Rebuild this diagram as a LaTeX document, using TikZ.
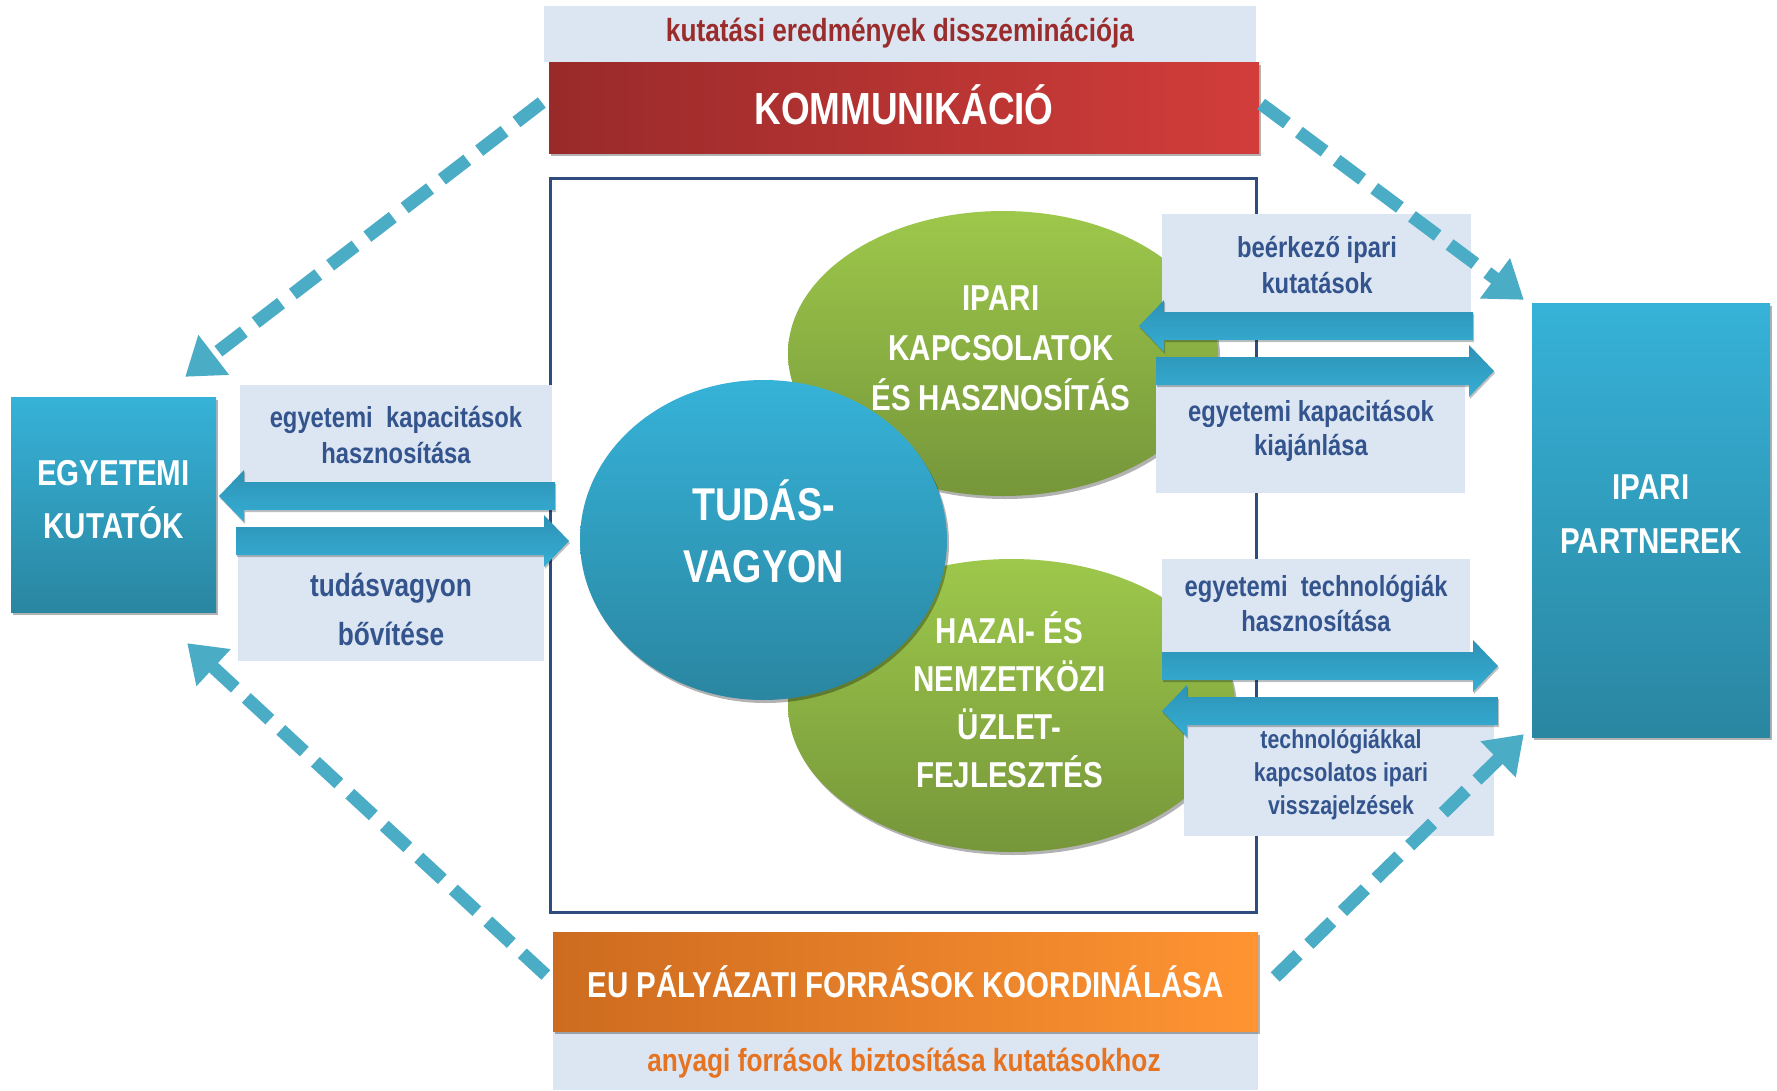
\documentclass[tikz,border=0pt]{standalone}
\usepackage{fontspec}
\setmainfont{Liberation Sans}[FakeStretch=0.82]
\usetikzlibrary{arrows.meta,shadows,calc,shapes.geometric}
\definecolor{lightbox}{HTML}{DCE6F2}
\definecolor{labeltxt}{HTML}{34548E}
\definecolor{redL}{HTML}{992A2A}
\definecolor{redR}{HTML}{D23D3A}
\definecolor{orL}{HTML}{CD6B1F}
\definecolor{orR}{HTML}{FF9432}
\definecolor{blueT}{HTML}{36B2D8}
\definecolor{blueB}{HTML}{2A86A1}
\definecolor{greenT}{HTML}{9DC84B}
\definecolor{greenB}{HTML}{76963A}
\definecolor{dashblue}{HTML}{4BACC6}
\definecolor{framec}{HTML}{2E4C7E}
\definecolor{toptxt}{HTML}{9A2C2C}
\definecolor{bottxt}{HTML}{E57321}
\definecolor{arrT}{HTML}{2C92B5}
\definecolor{arrB}{HTML}{37AED4}
\newcommand\myArrowR[3]{\path[arrowfill] (#1,#3-14) -- (#2-25,#3-14) -- (#2-25,#3-26) -- (#2,#3) -- (#2-25,#3+26) -- (#2-25,#3+14) -- (#1,#3+14) -- cycle;}
\newcommand\myArrowL[3]{\path[arrowfill] (#2,#3-14) -- (#1+25,#3-14) -- (#1+25,#3-26) -- (#1,#3) -- (#1+25,#3+26) -- (#1+25,#3+14) -- (#2,#3+14) -- cycle;}
\begin{document}
\begin{tikzpicture}[x=1pt,y=-1pt,
  myshadow/.style={drop shadow={shadow xshift=2pt,shadow yshift=-3pt,opacity=0.3,fill=black}},
  lbox/.style={fill=lightbox,draw=none,inner sep=0pt},
  labtext/.style={text=labeltxt,align=center,inner sep=0pt,font=\bfseries\fontsize{29}{36}\selectfont},
  whitetext/.style={text=white,align=center,inner sep=0pt},
  bluebox/.style={top color=blueT,bottom color=blueB,draw=none,inner sep=0pt,myshadow},
  greenell/.style={ellipse,top color=greenT,bottom color=greenB,draw=none,inner sep=0pt,myshadow},
  arrowfill/.style={top color=arrT,bottom color=arrB,draw=none,drop shadow={shadow xshift=1pt,shadow yshift=-2pt,opacity=0.25,fill=black}},
  dasharrow/.style={draw=dashblue,line width=13pt,dash pattern=on 32pt off 15pt,-{Triangle[length=36pt,width=48pt]}}]
\fill[white] (0,0) rectangle (1777,1090);
\useasboundingbox (0,0) rectangle (1777,1090);

% inner frame
\node[draw=framec,line width=3pt,minimum width=706,minimum height=734,inner sep=0pt] (frame) at (903,545) {};

% green ellipses and circle
\node[greenell,minimum width=430,minimum height=285] (ipari) at (1003,353.5) {};
\node[whitetext,font=\bfseries\fontsize{36}{50}\selectfont] (iparit) at ($(ipari.center)+(-2,-5)$) {IPARI\\KAPCSOLATOK\\ÉS HASZNOSÍTÁS};
\node[greenell,minimum width=447,minimum height=293] (hazai) at (1011.5,705.5) {};
\node[whitetext,font=\bfseries\fontsize{36}{48}\selectfont] (hazait) at ($(hazai.center)+(-2,-6)$) {HAZAI- ÉS\\NEMZETKÖZI\\ÜZLET-\\FEJLESZTÉS};
\node[ellipse,top color=blueT,bottom color=blueB,draw=none,inner sep=0pt,myshadow,minimum width=367,minimum height=320] (tudas) at (763.5,540) {};
\node[whitetext,font=\bfseries\fontsize{46}{62}\selectfont] (tudast) at ($(tudas.center)+(0,-9)$) {TUDÁS-\\VAGYON};

% label boxes
\node[lbox,minimum width=312,minimum height=105] (lb1) at (396,437.5) {};
\node[labtext] (lb1t) at (396,435) {egyetemi\ \ kapacitások\\hasznosítása};
\node[lbox,minimum width=306,minimum height=109] (lb2) at (391,606.5) {};
\node[labtext,font=\bfseries\fontsize{32}{49}\selectfont] (lb2t) at (391,609.5) {tudásvagyon\\bővítése};
\node[lbox,minimum width=309,minimum height=106] (rb1) at (1316.5,267) {};
\node[labtext] (rb1t) at (1317,265) {beérkező ipari\\kutatások};
\node[lbox,minimum width=309,minimum height=128] (rb2) at (1310.5,429) {};
\node[labtext,font=\bfseries\fontsize{29}{34}\selectfont] (rb2t) at (1311,431) {egyetemi kapacitások\\kiajánlása};
\node[lbox,minimum width=308,minimum height=101] (rb3) at (1316,609.5) {};
\node[labtext,font=\bfseries\fontsize{29}{35}\selectfont] (rb3t) at (1316,603.5) {egyetemi\ \ technológiák\\hasznosítása};
\node[lbox,minimum width=310,minimum height=126] (rb4) at (1339,773) {};
\node[labtext,font=\bfseries\fontsize{26}{33}\selectfont] (rb4t) at (1341,775) {technológiákkal\\kapcsolatos ipari\\visszajelzések};

% block arrows
\myArrowL{219}{555}{496}
\myArrowR{236}{569}{541}
\myArrowL{1139}{1473}{326}
\myArrowR{1156}{1494}{371}
\myArrowR{1162}{1498}{666}
\myArrowL{1162}{1498}{711}

% top and bottom bands
\node[lbox,minimum width=712,minimum height=56] (toplab) at (900,34) {};
\node[text=toptxt,inner sep=0pt,font=\bfseries\fontsize{32}{36}\selectfont] (toplabt) at (900,33) {kutatási eredmények disszeminációja};
\node[left color=redL,right color=redR,draw=none,inner sep=0pt,myshadow,minimum width=710,minimum height=91] (komm) at (904,107.5) {};
\node[whitetext,font=\bfseries\fontsize{45}{50}\selectfont] (kommt) at ($(komm.center)+(0,-3)$) {KOMMUNIKÁCIÓ};
\node[lbox,minimum width=705,minimum height=59] (botlab) at (905.5,1060.5) {};
\node[text=bottxt,inner sep=0pt,font=\bfseries\fontsize{32}{36}\selectfont] (botlabt) at (904,1063) {anyagi források biztosítása kutatásokhoz};
\node[left color=orL,right color=orR,draw=none,inner sep=0pt,myshadow,minimum width=705,minimum height=99] (eu) at (905.5,981.5) {};
\node[whitetext,font=\bfseries\fontsize{36}{40}\selectfont] (eut) at (eu.center) {EU PÁLYÁZATI FORRÁSOK KOORDINÁLÁSA};

% side boxes
\node[bluebox,minimum width=205,minimum height=215] (egy) at (113.5,504.5) {};
\node[whitetext,font=\bfseries\fontsize{36}{53}\selectfont] (egyt) at ($(egy.center)+(0,-5)$) {EGYETEMI\\KUTATÓK};
\node[bluebox,minimum width=238,minimum height=434] (partner) at (1651,520) {};
\node[whitetext,font=\bfseries\fontsize{36}{54}\selectfont] (partnert) at ($(partner.center)+(0,-6)$) {IPARI\\PARTNEREK};

% dashed arrows
\draw[dasharrow] ($(komm.west)+(-7,-5)$) -- ($(egy.north east)+(-31,-20)$);
\draw[dasharrow] ($(komm.east)+(2,-3.5)$) -- ($(partner.north west)+(-8,-3)$);
\draw[dasharrow] ($(eu.west)+(-7,-6.5)$) -- ($(egy.south east)+(-29,31)$);
\draw[dasharrow] ($(eu.east)+(17,-4.5)$) -- ($(partner.south west)+(-8,-3)$);
\end{tikzpicture}
\end{document}
